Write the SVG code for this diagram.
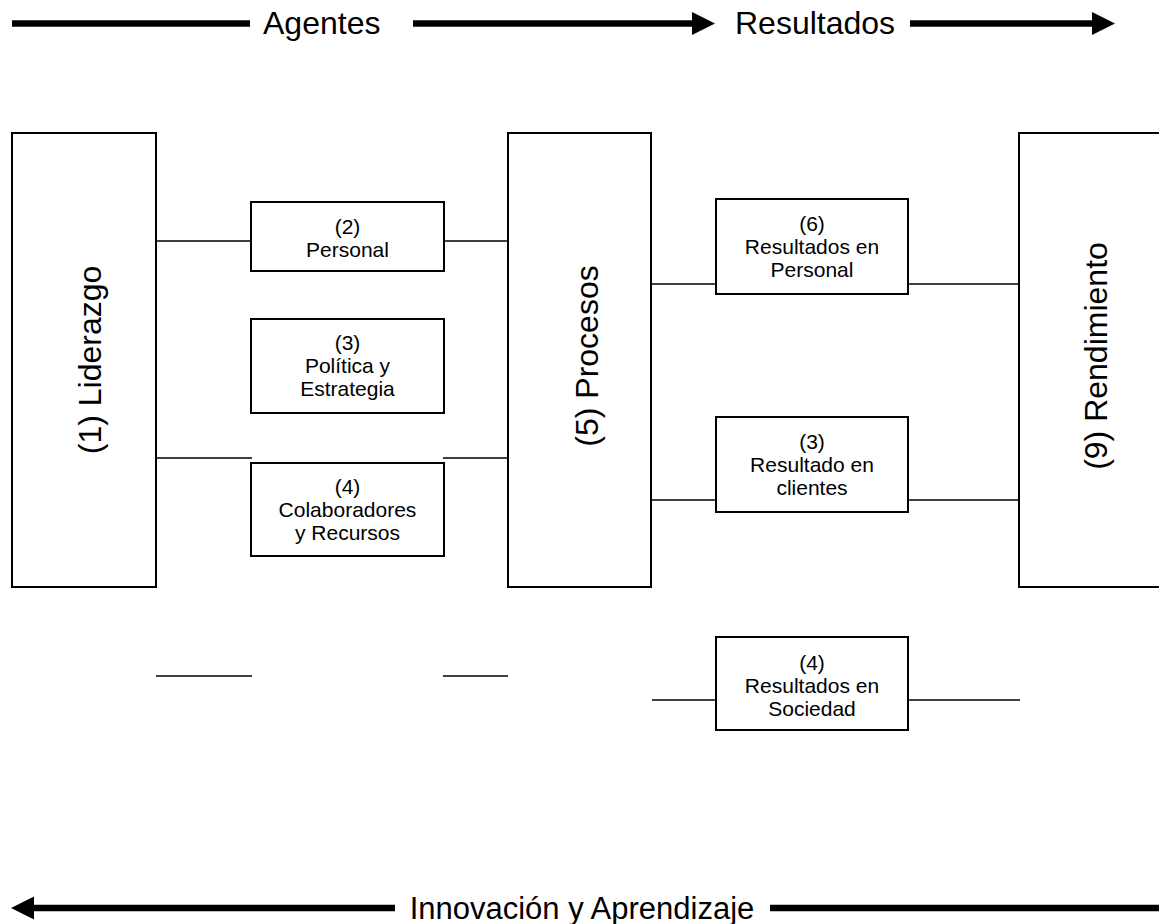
<svg xmlns="http://www.w3.org/2000/svg" width="1159" height="924" viewBox="0 0 1159 924">
  <style>
    .box { fill: #ffffff; stroke: #000000; stroke-width: 2; }
    .link { stroke: #000000; stroke-width: 1.6; fill: none; }
    .flow { stroke: #000000; stroke-width: 6.5; fill: none; }
    .big { font-family: "Liberation Sans", Arial, sans-serif; font-size: 32px; fill: #000000; }
    .small { font-family: "Liberation Sans", Arial, sans-serif; font-size: 21px; fill: #000000; text-anchor: middle; }
  </style>
  <defs>
    <marker id="head" markerUnits="userSpaceOnUse" markerWidth="24" markerHeight="24" viewBox="0 0 24 24" refX="8" refY="12" orient="auto">
      <path d="M0,0.5 L23,12 L0,23.5 Z" fill="#000000"/>
    </marker>
  </defs>
  <rect width="1159" height="924" fill="#ffffff"/>

  <!-- flow arrows and headings -->
  <g id="flow-top">
    <line class="flow" x1="12" y1="23.5" x2="250" y2="23.5"/>
    <text class="big" x="263" y="34">Agentes</text>
    <line class="flow" x1="413" y1="23.5" x2="700" y2="23.5" marker-end="url(#head)"/>
    <text class="big" x="735" y="34">Resultados</text>
    <line class="flow" x1="910" y1="23.5" x2="1100" y2="23.5" marker-end="url(#head)"/>
  </g>
  <g id="flow-bottom">
    <line class="flow" x1="395" y1="908" x2="26" y2="908" marker-end="url(#head)"/>
    <text class="big" x="582" y="919" text-anchor="middle" style="font-size:31px">Innovación y Aprendizaje</text>
    <line class="flow" x1="770" y1="908" x2="1159" y2="908"/>
  </g>

  <!-- connectors -->
  <g id="connectors">
    <line class="link" x1="156" y1="241" x2="251" y2="241"/>
    <line class="link" x1="444" y1="241" x2="508" y2="241"/>
    <line class="link" x1="156" y1="458" x2="252" y2="458"/>
    <line class="link" x1="443" y1="458" x2="508" y2="458"/>
    <line class="link" x1="156" y1="676" x2="252" y2="676"/>
    <line class="link" x1="443" y1="676" x2="508" y2="676"/>
    <line class="link" x1="651" y1="284" x2="716" y2="284"/>
    <line class="link" x1="908" y1="284" x2="1019" y2="284"/>
    <line class="link" x1="651" y1="500" x2="716" y2="500"/>
    <line class="link" x1="908" y1="500" x2="1019" y2="500"/>
    <line class="link" x1="652" y1="700" x2="716" y2="700"/>
    <line class="link" x1="908" y1="700" x2="1020" y2="700"/>
  </g>

  <!-- tall columns -->
  <g id="liderazgo">
    <rect class="box" x="12" y="133" width="144" height="454"/>
    <text class="big" transform="translate(101,360) rotate(-90)" text-anchor="middle">(1) Liderazgo</text>
  </g>
  <g id="procesos">
    <rect class="box" x="508" y="133" width="143" height="454"/>
    <text class="big" transform="translate(598,356) rotate(-90)" text-anchor="middle">(5) Procesos</text>
  </g>
  <g id="rendimiento">
    <rect class="box" x="1019" y="133" width="150" height="454"/>
    <text class="big" transform="translate(1107,356) rotate(-90)" text-anchor="middle">(9) Rendimiento</text>
  </g>

  <!-- agent boxes -->
  <g id="personal">
    <rect class="box" x="251" y="202" width="193" height="69"/>
    <text class="small" x="347.5" y="234">(2)</text>
    <text class="small" x="347.5" y="257">Personal</text>
  </g>
  <g id="politica">
    <rect class="box" x="251" y="319" width="193" height="94"/>
    <text class="small" x="347.5" y="350">(3)</text>
    <text class="small" x="347.5" y="373">Política y</text>
    <text class="small" x="347.5" y="396">Estrategia</text>
  </g>
  <g id="colaboradores">
    <rect class="box" x="251" y="463" width="193" height="93"/>
    <text class="small" x="347.5" y="494">(4)</text>
    <text class="small" x="347.5" y="517">Colaboradores</text>
    <text class="small" x="347.5" y="540">y Recursos</text>
  </g>

  <!-- result boxes -->
  <g id="res-personal">
    <rect class="box" x="716" y="199" width="192" height="95"/>
    <text class="small" x="812" y="231">(6)</text>
    <text class="small" x="812" y="254">Resultados en</text>
    <text class="small" x="812" y="277">Personal</text>
  </g>
  <g id="res-clientes">
    <rect class="box" x="716" y="417" width="192" height="95"/>
    <text class="small" x="812" y="449">(3)</text>
    <text class="small" x="812" y="472">Resultado en</text>
    <text class="small" x="812" y="495">clientes</text>
  </g>
  <g id="res-sociedad">
    <rect class="box" x="716" y="637" width="192" height="93"/>
    <text class="small" x="812" y="670">(4)</text>
    <text class="small" x="812" y="693">Resultados en</text>
    <text class="small" x="812" y="716">Sociedad</text>
  </g>
</svg>
